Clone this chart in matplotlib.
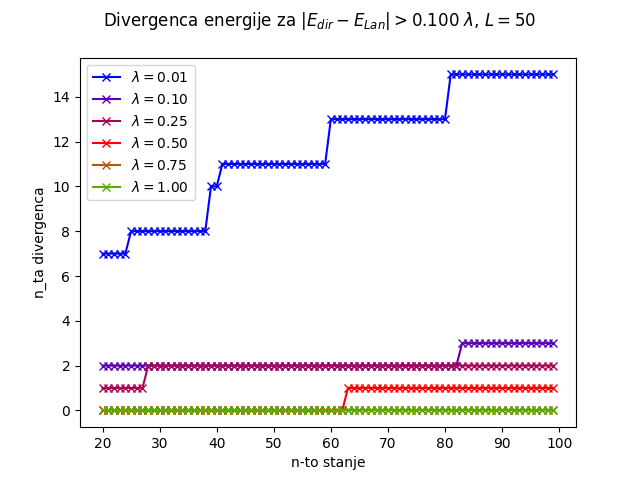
import numpy as np
import matplotlib
matplotlib.use('Agg')
from matplotlib import pyplot as plt

x = np.arange(20, 100)
lambdas = [0.01, 0.10, 0.25, 0.50, 0.75, 1.00]
colors = ['#0000ff', '#5a00b4', '#aa0055', '#ff0000', '#b45a00', '#5aaa00']

# (start x, value) steps for each lambda
steps = [
    [(20, 7), (25, 8), (39, 10), (41, 11), (60, 13), (81, 15)],
    [(20, 2), (83, 3)],
    [(20, 1), (28, 2)],
    [(20, 0), (63, 1)],
    [(20, 0)],
    [(20, 0)],
]


def step_values(st):
    y = np.zeros(len(x))
    for start, val in st:
        y[x >= start] = val
    return y


plt.figure(figsize=(6.4, 4.8))
for lam, col, st in zip(lambdas, colors, steps):
    plt.plot(x, step_values(st), marker='x', color=col, label=r'$\lambda = {:.2f}$'.format(lam))

plt.suptitle(r'Divergenca energije za $|E_{dir} - E_{Lan}| > 0.100\ \lambda$, $L = 50$')
plt.xlabel('n-to stanje')
plt.ylabel('n_ta divergenca')
plt.legend(loc='upper left')
plt.savefig('out.png', dpi=100)
